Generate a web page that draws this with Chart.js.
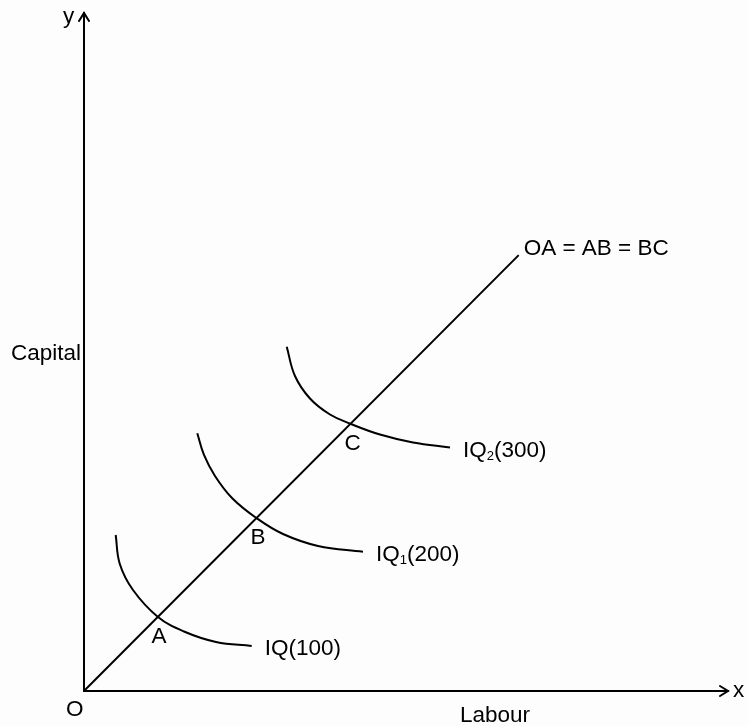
<!DOCTYPE html>
<html lang="en">
<head>
<meta charset="UTF-8" />
<title>Isoquants - constant returns to scale</title>
<script src="https://cdn.jsdelivr.net/npm/chart.js"></script>
<style>
body { margin: 0; padding: 0; background: #fdfdfd; }
#wrap { width: 748px; height: 726px; }
</style>
</head>
<body>
<div id="wrap"><canvas id="chart" width="748" height="726"></canvas></div>
<script>
// ray from origin (scale line)
const rayX = [0, 67.5];
const rayY = [0, 67.5];

// isoquants
const iq100X = [4.92, 5.56, 7.61, 11.44, 15.53, 20.50, 26.04];
const iq100Y = [24.16, 19.67, 15.64, 11.51, 9.21, 7.59, 6.97];
const iq200X = [17.59, 18.63, 20.34, 22.98, 26.82, 30.90, 36.34, 43.32];
const iq200Y = [39.91, 36.55, 33.30, 29.89, 26.75, 24.31, 22.46, 21.57];
const iq300X = [31.48, 32.76, 35.09, 38.20, 41.46, 45.96, 51.09, 56.83];
const iq300Y = [53.32, 48.78, 45.30, 42.82, 41.35, 39.72, 38.49, 37.71];

// intersection points on the ray
const pointNames = ['A', 'B', 'C'];
const pointX = [11.4, 26.8, 41.4];
const pointY = [11.5, 26.8, 41.4];

// curve labels: [main, subscript, rest]
const curveLabels = [['IQ', '', '(100)'], ['IQ', '1', '(200)'], ['IQ', '2', '(300)']];
const rayLabel = 'OA = AB = BC';
const xTitle = 'Labour';
const yTitle = 'Capital';

const FONT = '"Liberation Sans", Arial, sans-serif';

function pts(xs, ys) {
  return xs.map((x, i) => ({ x: x, y: ys[i] }));
}

const lineStyle = {
  borderColor: '#000',
  borderWidth: 2,
  pointRadius: 0,
  showLine: true,
  fill: false
};

const curves = [pts(iq100X, iq100Y), pts(iq200X, iq200Y), pts(iq300X, iq300Y)];

const diagram = {
  id: 'diagram',
  beforeDatasetsDraw(chart) {
    const ctx = chart.ctx;
    const a = chart.chartArea;
    const xs = chart.scales.x, ys = chart.scales.y;
    const ox = xs.getPixelForValue(0), oy = ys.getPixelForValue(0);
    ctx.save();
    ctx.strokeStyle = '#000';
    ctx.lineWidth = 2;
    ctx.lineCap = 'round';
    // axes
    ctx.beginPath();
    ctx.moveTo(ox, a.top);
    ctx.lineTo(ox, oy);
    ctx.lineTo(a.right, oy);
    ctx.stroke();
    // arrow heads
    ctx.beginPath();
    ctx.moveTo(ox - 5, a.top + 8);
    ctx.lineTo(ox, a.top);
    ctx.lineTo(ox + 5, a.top + 8);
    ctx.moveTo(a.right - 8, oy - 5);
    ctx.lineTo(a.right, oy);
    ctx.lineTo(a.right - 8, oy + 5);
    ctx.stroke();
    ctx.restore();
  },
  afterDatasetsDraw(chart) {
    const ctx = chart.ctx;
    const a = chart.chartArea;
    const xs = chart.scales.x, ys = chart.scales.y;
    const ox = xs.getPixelForValue(0), oy = ys.getPixelForValue(0);
    const big = '22.5px ' + FONT;
    ctx.save();
    ctx.fillStyle = '#000';
    ctx.textBaseline = 'alphabetic';
    ctx.textAlign = 'left';
    ctx.font = big;

    ctx.fillText('y', ox - 21, a.top + 10);
    ctx.fillText('x', a.right + 5, oy + 6);
    ctx.fillText('O', ox - 18, oy + 25);
    ctx.fillText(xTitle, 460, oy + 31);
    ctx.fillText(yTitle, 11, 360);

    // ray label at end of ray
    const rx = xs.getPixelForValue(rayX[1]), ry = ys.getPixelForValue(rayY[1]);
    ctx.fillText(rayLabel, rx + 5, ry);

    // A, B, C
    pointNames.forEach((n, i) => {
      const px = xs.getPixelForValue(pointX[i]), py = ys.getPixelForValue(pointY[i]);
      ctx.fillText(n, px - 6, py + 26);
    });

    // isoquant labels after each curve end
    curves.forEach((c, i) => {
      const last = c[c.length - 1];
      let px = xs.getPixelForValue(last.x) + 13;
      const py = ys.getPixelForValue(last.y) + 9;
      const [main, sub, rest] = curveLabels[i];
      ctx.font = big;
      ctx.fillText(main, px, py);
      px += ctx.measureText(main).width;
      if (sub) {
        ctx.font = '13px ' + FONT;
        ctx.fillText(sub, px, py + 3);
        px += ctx.measureText(sub).width;
        ctx.font = big;
      }
      ctx.fillText(rest, px, py);
    });
    ctx.restore();
  }
};

new Chart(document.getElementById('chart').getContext('2d'), {
  type: 'scatter',
  data: {
    datasets: [
      Object.assign({ label: 'ray', data: pts(rayX, rayY) }, lineStyle),
      Object.assign({ label: 'IQ(100)', data: curves[0], tension: 0.4 }, lineStyle),
      Object.assign({ label: 'IQ1(200)', data: curves[1], tension: 0.4 }, lineStyle),
      Object.assign({ label: 'IQ2(300)', data: curves[2], tension: 0.4 }, lineStyle)
    ]
  },
  options: {
    responsive: false,
    animation: false,
    layout: { padding: { left: 84, top: 13, right: 20, bottom: 35 } },
    plugins: {
      legend: { display: false },
      tooltip: { enabled: false }
    },
    scales: {
      x: { type: 'linear', min: 0, max: 100, display: false },
      y: { type: 'linear', min: 0, max: 105, display: false }
    }
  },
  plugins: [diagram]
});
</script>
</body>
</html>
